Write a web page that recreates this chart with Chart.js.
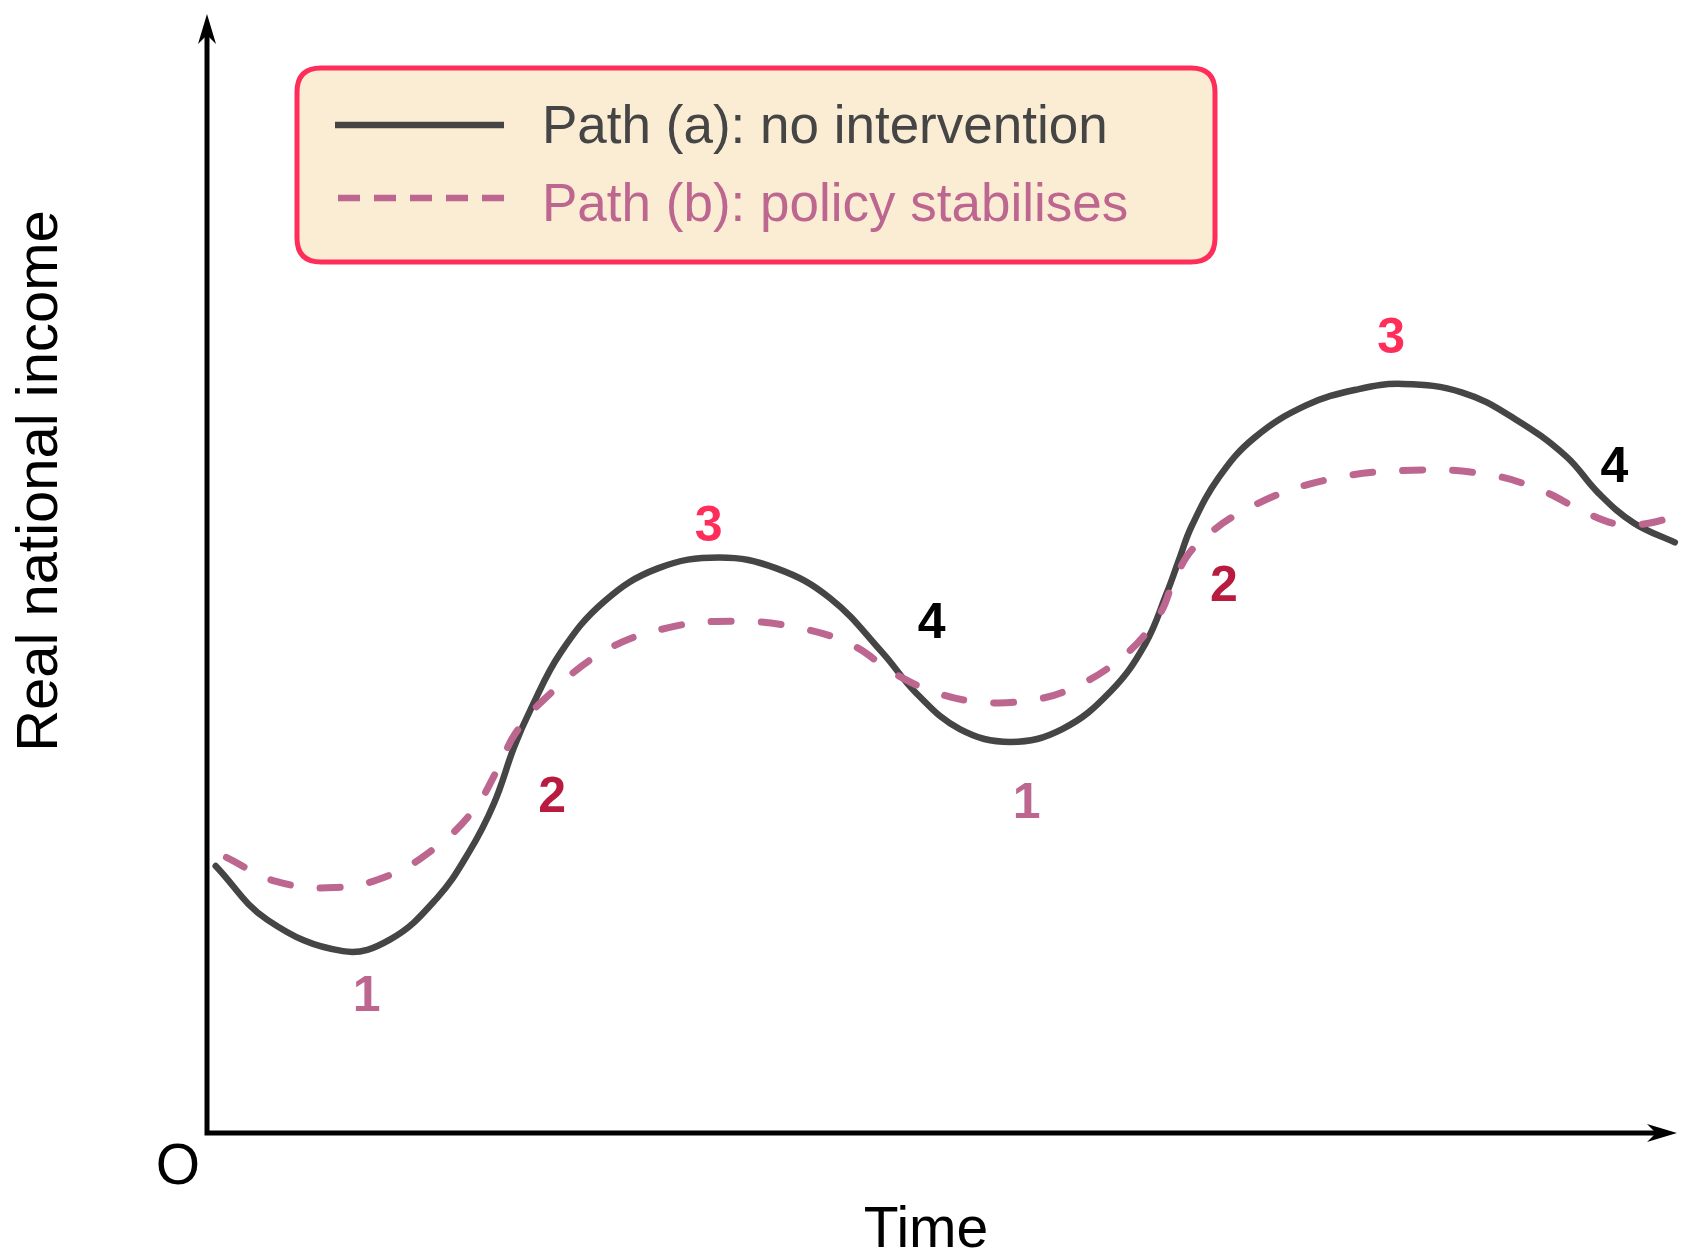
<!DOCTYPE html>
<html>
<head>
<meta charset="utf-8">
<script src="https://cdn.jsdelivr.net/npm/chart.js@4/dist/chart.umd.min.js"></script>
<style>
  html, body { margin: 0; padding: 0; background: #fff; }
</style>
</head>
<body>
<canvas id="cycleChart" width="1691" height="1254"></canvas>
<script>
// path (a): no intervention
const timeA   = [0.59, 4.11, 9.25, 12.47, 15.63, 17.83, 19.52, 20.91, 22.01, 24.07, 27.00, 30.67, 34.85, 38.74, 42.41, 45.93, 48.27, 51.21, 54.66, 58.18, 61.48, 63.83, 65.29, 66.10, 66.98, 68.82, 71.24, 74.76, 78.28, 81.36, 85.40, 88.92, 92.44, 94.64, 97.06, 99.85];
const incomeA = [23.86, 19.05, 16.25, 17.31, 20.97, 25.12, 29.45, 34.56, 37.84, 42.95, 47.48, 50.46, 51.43, 50.46, 47.77, 42.95, 39.28, 36.10, 34.95, 36.10, 39.48, 43.72, 48.25, 51.14, 54.22, 58.56, 62.12, 65.02, 66.46, 66.94, 66.17, 63.86, 60.49, 57.21, 54.51, 52.78];

// path (b): policy stabilises
const timeB   = [1.32, 4.63, 8.66, 12.33, 15.63, 18.20, 19.81, 20.98, 22.97, 27.00, 31.40, 35.80, 40.21, 43.87, 46.82, 49.75, 52.68, 55.61, 58.54, 62.21, 64.78, 65.88, 67.35, 71.02, 76.15, 82.02, 87.15, 90.82, 93.75, 95.96, 98.16, 100.36];
const incomeB = [24.63, 22.51, 21.93, 22.99, 25.60, 28.97, 32.63, 35.72, 38.80, 43.04, 45.16, 45.74, 45.16, 43.62, 41.02, 39.28, 38.51, 38.61, 39.57, 42.46, 46.32, 49.69, 52.58, 55.96, 58.36, 59.23, 58.85, 57.40, 55.47, 54.41, 54.51, 55.38];

// stage numbers of the cycle
const stageText   = ['1', '2', '3', '4', '1', '2', '3', '4'];
const stageTime   = [10.86, 23.48, 34.12, 49.30, 55.76, 69.18, 80.55, 95.74];
const stageIncome = [12.1, 29.9, 54.1, 45.5, 29.4, 48.8, 70.9, 59.4];
const stageColors = ['#bc6690', '#b81a40', '#ff2d5a', '#000000', '#bc6690', '#b81a40', '#ff2d5a', '#000000'];

const seriesNames = ['Path (a): no intervention', 'Path (b): policy stabilises'];
const axisTitles = { x: 'Time', y: 'Real national income', origin: 'O' };

const FONT = "'Liberation Sans', Arial, Helvetica, sans-serif";
const solidColor = '#454545';
const dashColor = '#bc6690';

function toPoints(xs, ys) {
    return xs.map((x, i) => ({ x: x, y: ys[i] }));
}

function arrowHead(ctx, x, y, dx, dy) {
    const len = 30, half = 9, notch = 9;
    const px = -dy, py = dx;
    ctx.beginPath();
    ctx.moveTo(x, y);
    ctx.lineTo(x - dx * len + px * half, y - dy * len + py * half);
    ctx.lineTo(x - dx * (len - notch), y - dy * (len - notch));
    ctx.lineTo(x - dx * len - px * half, y - dy * len - py * half);
    ctx.closePath();
    ctx.fill();
}

function roundRect(ctx, x, y, w, h, r) {
    ctx.beginPath();
    ctx.moveTo(x + r, y);
    ctx.lineTo(x + w - r, y);
    ctx.quadraticCurveTo(x + w, y, x + w, y + r);
    ctx.lineTo(x + w, y + h - r);
    ctx.quadraticCurveTo(x + w, y + h, x + w - r, y + h);
    ctx.lineTo(x + r, y + h);
    ctx.quadraticCurveTo(x, y + h, x, y + h - r);
    ctx.lineTo(x, y + r);
    ctx.quadraticCurveTo(x, y, x + r, y);
    ctx.closePath();
}

const decorPlugin = {
    id: 'decor',
    afterDatasetsDraw(chart) {
        const ctx = chart.ctx;
        const area = chart.chartArea;
        const xs = chart.scales.x, ys = chart.scales.y;
        ctx.save();

        // axes with arrows
        ctx.strokeStyle = '#000';
        ctx.fillStyle = '#000';
        ctx.lineWidth = 5;
        ctx.beginPath();
        ctx.moveTo(area.left, area.top + 20);
        ctx.lineTo(area.left, area.bottom);
        ctx.lineTo(area.right - 20, area.bottom);
        ctx.stroke();
        arrowHead(ctx, area.left, area.top, 0, -1);
        arrowHead(ctx, area.right, area.bottom, 1, 0);

        // axis titles
        ctx.font = '57px ' + FONT;
        ctx.textAlign = 'center';
        ctx.textBaseline = 'middle';
        ctx.fillText(axisTitles.x, 926, 1231);
        ctx.fillText(axisTitles.origin, 178, 1168);
        ctx.save();
        ctx.translate(41, 481);
        ctx.rotate(-Math.PI / 2);
        ctx.font = '58px ' + FONT;
        ctx.fillText(axisTitles.y, 0, 0);
        ctx.restore();

        // stage numbers
        ctx.font = 'bold 50px ' + FONT;
        stageText.forEach((t, i) => {
            ctx.fillStyle = stageColors[i];
            ctx.fillText(t, xs.getPixelForValue(stageTime[i]), ys.getPixelForValue(stageIncome[i]));
        });

        // legend box
        roundRect(ctx, 297, 68, 918, 194, 24);
        ctx.fillStyle = '#fbecd4';
        ctx.fill();
        ctx.lineWidth = 5;
        ctx.strokeStyle = '#ff2d5a';
        ctx.stroke();

        ctx.lineCap = 'butt';
        ctx.lineWidth = 6.5;
        ctx.strokeStyle = solidColor;
        ctx.beginPath();
        ctx.moveTo(335, 125);
        ctx.lineTo(504, 125);
        ctx.stroke();

        ctx.strokeStyle = dashColor;
        ctx.setLineDash([22, 14]);
        ctx.beginPath();
        ctx.moveTo(338, 198);
        ctx.lineTo(510, 198);
        ctx.stroke();
        ctx.setLineDash([]);

        ctx.font = '53px ' + FONT;
        ctx.textAlign = 'left';
        ctx.fillStyle = solidColor;
        ctx.fillText(seriesNames[0], 542, 128);
        ctx.fillStyle = dashColor;
        ctx.fillText(seriesNames[1], 542, 206);

        ctx.restore();
    }
};

new Chart(document.getElementById('cycleChart').getContext('2d'), {
    type: 'line',
    data: {
        datasets: [{
            label: seriesNames[1],
            data: toPoints(timeB, incomeB),
            borderColor: dashColor,
            borderWidth: 7,
            borderDash: [20, 30],
            borderCapStyle: 'round',
            pointRadius: 0,
            tension: 0.4,
            clip: false,
            fill: false
        }, {
            label: seriesNames[0],
            data: toPoints(timeA, incomeA),
            borderColor: solidColor,
            borderWidth: 6.5,
            borderCapStyle: 'round',
            pointRadius: 0,
            tension: 0.4,
            clip: false,
            fill: false
        }]
    },
    options: {
        responsive: false,
        animation: false,
        devicePixelRatio: 1,
        layout: { padding: { left: 207, right: 14, top: 14, bottom: 121 } },
        scales: {
            x: { type: 'linear', min: 0, max: 100, display: false },
            y: { type: 'linear', min: 0, max: 100, display: false }
        },
        plugins: {
            legend: { display: false },
            tooltip: { enabled: false }
        }
    },
    plugins: [decorPlugin]
});
</script>
</body>
</html>
